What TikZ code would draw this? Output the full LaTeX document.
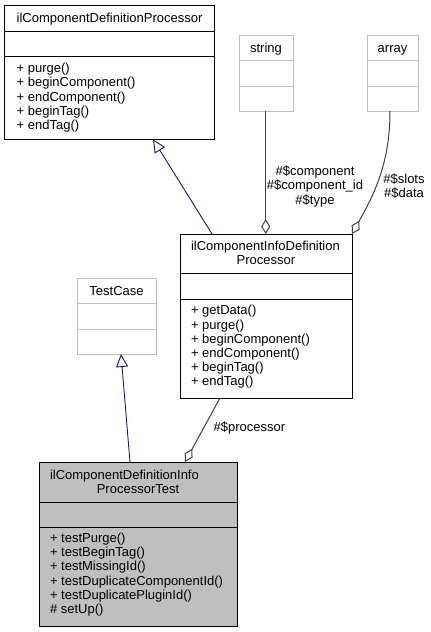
\documentclass[tikz,border=0pt]{standalone}
\usepackage{fontspec}
\setmainfont{Liberation Sans}
\usetikzlibrary{arrows.meta}
\definecolor{navyedge}{HTML}{191970}
\definecolor{aggedge}{HTML}{404040}
\definecolor{lightborder}{HTML}{BFBFBF}
\definecolor{classfill}{HTML}{BFBFBF}
\begin{document}
\begin{tikzpicture}[x=1pt,y=-1pt,
  box/.style={draw=black, line width=1pt, rectangle, inner sep=0pt, outer sep=0pt},
  ghost/.style={draw=lightborder, line width=1pt, rectangle, inner sep=0pt, outer sep=0pt},
  divider/.style={draw=black, line width=1pt},
  ghostdivider/.style={draw=lightborder, line width=1pt},
  txt/.style={inner sep=0pt, outer sep=0pt, font=\fontsize{13}{14.2}\selectfont},
  inherit/.style={draw=navyedge, line width=0.9pt, -{Triangle[open, length=13pt, width=12pt]}},
  aggreg/.style={draw=aggedge, line width=1pt, -{Diamond[open, length=15pt, width=9pt]}}]
\useasboundingbox (0,0) rectangle (431,632);

% ---------- ilComponentDefinitionProcessor ----------
\node[box, minimum width=209.6pt, minimum height=133.6pt] (A) at (109.5,72.5) {};
\draw[divider] (4.7,31.7) -- (214.3,31.7);
\draw[divider] (4.7,56.7) -- (214.3,56.7);
\node[txt, anchor=base west] (At) at (16.7,22.5) {ilComponentDefinitionProcessor};
\node[txt, anchor=base west] (Am) at (16.7,72.7) {\begin{tabular}[t]{@{}l@{}}+ purge()\\+ beginComponent()\\+ endComponent()\\+ beginTag()\\+ endTag()\end{tabular}};

% ---------- string ----------
\node[ghost, minimum width=54pt, minimum height=76pt] (S) at (266,73) {};
\draw[ghostdivider] (239,60) -- (293,60);
\draw[ghostdivider] (239,86) -- (293,86);
\node[txt, anchor=base] (St) at (266,52.3) {string};

% ---------- array ----------
\node[ghost, minimum width=51pt, minimum height=76pt] (R) at (392.5,73) {};
\draw[ghostdivider] (367,60) -- (418,60);
\draw[ghostdivider] (367,86) -- (418,86);
\node[txt, anchor=base] (Rt) at (392.5,52.3) {array};

% ---------- ilComponentInfoDefinitionProcessor ----------
\node[box, minimum width=172pt, minimum height=164pt] (B) at (266,316) {};
\draw[divider] (180,273) -- (352,273);
\draw[divider] (180,299) -- (352,299);
\node[txt, anchor=base west] (Bt1) at (191,250.5) {ilComponentInfoDefinition};
\node[txt, anchor=base] (Bt2) at (266,264.7) {Processor};
\node[txt, anchor=base west] (Bm) at (191,314.8) {\begin{tabular}[t]{@{}l@{}}+ getData()\\+ purge()\\+ beginComponent()\\+ endComponent()\\+ beginTag()\\+ endTag()\end{tabular}};

% ---------- TestCase ----------
\node[ghost, minimum width=79pt, minimum height=76pt] (T) at (116.5,316) {};
\draw[ghostdivider] (77,303) -- (156,303);
\draw[ghostdivider] (77,329) -- (156,329);
\node[txt, anchor=base] (Tt) at (116.5,295) {TestCase};

% ---------- ilComponentDefinitionInfoProcessorTest ----------
\node[box, fill=classfill, minimum width=198pt, minimum height=164pt] (C) at (138,544) {};
\draw[divider] (39,502) -- (237,502);
\draw[divider] (39,527) -- (237,527);
\node[txt, anchor=base west] (Ct1) at (50,479.5) {ilComponentDefinitionInfo};
\node[txt, anchor=base] (Ct2) at (138,493.7) {ProcessorTest};
\node[txt, anchor=base west] (Cm) at (50,542.5) {\begin{tabular}[t]{@{}l@{}}+ testPurge()\\+ testBeginTag()\\+ testMissingId()\\+ testDuplicateComponentId()\\+ testDuplicatePluginId()\\\# setUp()\end{tabular}};

% ---------- connector end points ----------
\coordinate (BinhOut) at (212,234);
\coordinate (AinhIn) at (153,139.3);
\coordinate (SaggOut) at (265.7,111);
\coordinate (BaggInS) at (265.7,234);
\coordinate (RaggOut) at (390,111);
\coordinate (BaggInR) at (352,234);
\coordinate (CinhOut) at (130,462);
\coordinate (TinhIn) at (121,354);
\coordinate (BaggOut) at (220,398);
\coordinate (CaggIn) at (185,462);

% ---------- connectors ----------
\draw[inherit] (BinhOut) -- (AinhIn);
\draw[inherit] (CinhOut) -- (TinhIn);
\draw[aggreg] (SaggOut) -- (BaggInS);
\draw[aggreg] (RaggOut) .. controls (390,165) and (373,196) .. (BaggInR);
\draw[aggreg] (BaggOut) -- (CaggIn);

% ---------- connector labels ----------
\node[txt, anchor=base] (Ls) at (315,175.7) {\begin{tabular}[t]{@{}c@{}}\#\$component\\\#\$component\_id\\\#\$type\end{tabular}};
\node[txt, anchor=base] (Lr) at (404,183.3) {\begin{tabular}[t]{@{}c@{}}\#\$slots\\\#\$data\end{tabular}};
\node[txt, anchor=base] (Lp) at (249.5,431.7) {\#\$processor};
\end{tikzpicture}
\end{document}
